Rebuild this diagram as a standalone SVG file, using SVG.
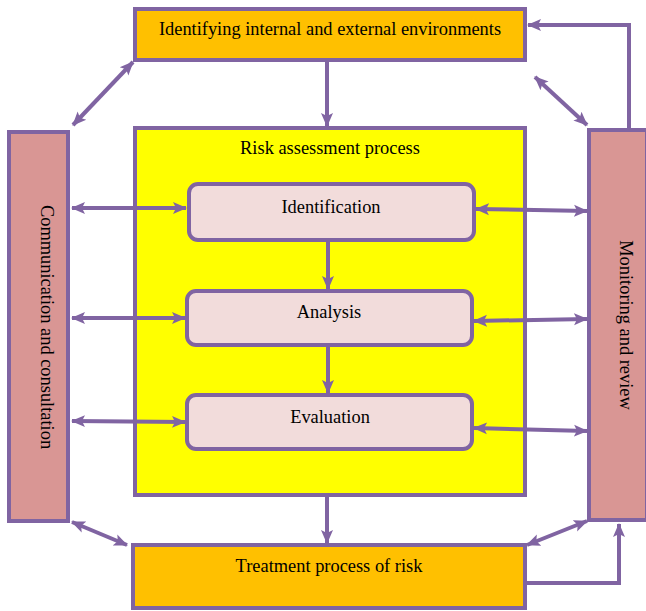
<svg xmlns="http://www.w3.org/2000/svg" width="646" height="611" viewBox="0 0 646 611">
<style>
.b{stroke:#8064A2;stroke-width:4}
.t{font-family:"Liberation Serif","Times New Roman",serif;font-size:18.4px;fill:#000;text-anchor:middle}
.c{fill:none;stroke:#8064A2;stroke-width:4}
</style>
<defs>
<marker id="ae" markerUnits="userSpaceOnUse" markerWidth="14" markerHeight="14" refX="13" refY="7" orient="auto"><path d="M0,1 L14,7 L0,13 L3,7 Z" fill="#8064A2"/></marker>
<marker id="as" markerUnits="userSpaceOnUse" markerWidth="14" markerHeight="14" refX="1" refY="7" orient="auto"><path d="M14,1 L0,7 L14,13 L11,7 Z" fill="#8064A2"/></marker>
</defs>
<g id="env">
<rect class="b" x="135" y="9" width="390" height="51" fill="#FFC000"/>
<text class="t" x="330" y="35">Identifying internal and external environments</text>
</g>
<g id="comm">
<rect class="b" x="9" y="132" width="59" height="389" fill="#D99694"/>
<text class="t" transform="translate(41,327) rotate(90)">Communication and consultation</text>
</g>
<g id="monitor">
<rect class="b" x="589" y="130" width="58" height="390" fill="#D99694"/>
<text class="t" transform="translate(620,325) rotate(90)">Monitoring and review</text>
</g>
<g id="process">
<rect class="b" x="135" y="128" width="390" height="367" fill="#FFFF00"/>
<text class="t" x="330" y="154">Risk assessment process</text>
</g>
<g id="identification">
<rect class="b" x="189" y="184" width="285" height="56" rx="9" fill="#F2DCDB"/>
<text class="t" x="331" y="213">Identification</text>
</g>
<g id="analysis">
<rect class="b" x="187" y="291" width="285" height="54" rx="9" fill="#F2DCDB"/>
<text class="t" x="329" y="318">Analysis</text>
</g>
<g id="evaluation">
<rect class="b" x="187" y="395" width="285" height="54" rx="9" fill="#F2DCDB"/>
<text class="t" x="330" y="423">Evaluation</text>
</g>
<g id="treatment">
<rect class="b" x="133" y="545" width="392" height="63" fill="#FFC000"/>
<text class="t" x="329" y="572">Treatment process of risk</text>
</g>
<g id="connectors">
<line class="c" x1="327" y1="62" x2="327" y2="126" marker-end="url(#ae)"/>
<line class="c" x1="328" y1="242" x2="328" y2="289" marker-end="url(#ae)"/>
<line class="c" x1="328" y1="347" x2="328" y2="393" marker-end="url(#ae)"/>
<line class="c" x1="327" y1="497" x2="327" y2="543" marker-end="url(#ae)"/>
<line class="c" x1="72" y1="208" x2="186" y2="208" marker-start="url(#as)" marker-end="url(#ae)"/>
<line class="c" x1="72" y1="318" x2="185" y2="318" marker-start="url(#as)" marker-end="url(#ae)"/>
<line class="c" x1="72" y1="421" x2="185" y2="422" marker-start="url(#as)" marker-end="url(#ae)"/>
<line class="c" x1="476" y1="209" x2="587" y2="211" marker-start="url(#as)" marker-end="url(#ae)"/>
<line class="c" x1="474" y1="321" x2="587" y2="319" marker-start="url(#as)" marker-end="url(#ae)"/>
<line class="c" x1="474" y1="428" x2="587" y2="431" marker-start="url(#as)" marker-end="url(#ae)"/>
<line class="c" x1="73" y1="125" x2="133" y2="62" marker-start="url(#as)" marker-end="url(#ae)"/>
<line class="c" x1="535" y1="77" x2="587" y2="125" marker-start="url(#as)" marker-end="url(#ae)"/>
<line class="c" x1="72" y1="522" x2="127" y2="545" marker-start="url(#as)" marker-end="url(#ae)"/>
<line class="c" x1="527" y1="545" x2="587" y2="521" marker-start="url(#as)" marker-end="url(#ae)"/>
<polyline class="c" points="629,128 629,25 528,25" marker-end="url(#ae)"/>
<polyline class="c" points="527,583 619,583 619,524" marker-end="url(#ae)"/>
</g>
</svg>
